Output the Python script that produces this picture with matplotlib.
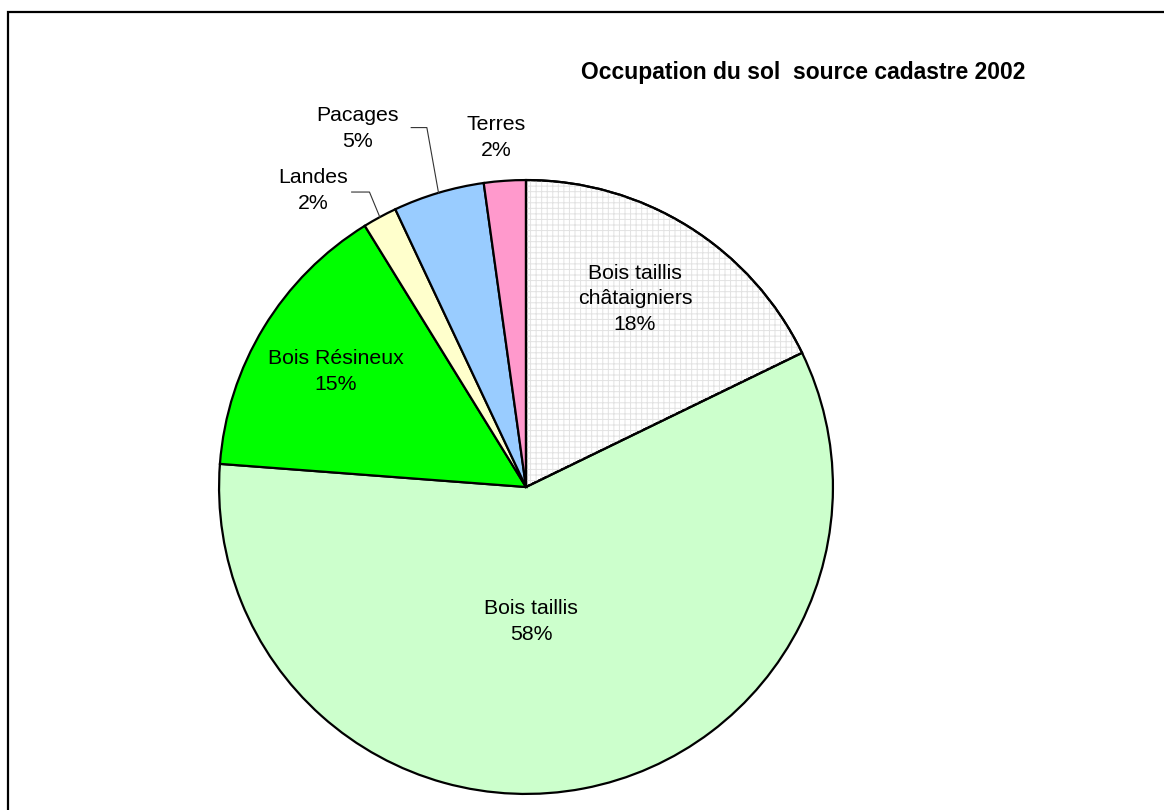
import matplotlib
matplotlib.use('Agg')
import matplotlib.pyplot as plt
from matplotlib.patches import Wedge, Rectangle
import numpy as np

# Occupation du sol, cadastre 2002 (percent, clockwise from 12 o'clock)
categories = ['Bois taillis\nchâtaigniers', 'Bois taillis', 'Bois Résineux',
              'Landes', 'Pacages', 'Terres']
shares = [17.8, 58.4, 15.0, 1.8, 4.8, 2.2]
colours = ['#FFFFFF', '#CCFFCC', '#00FF00', '#FFFFCC', '#99CCFF', '#FF99CC']

# label anchor positions in pie units (radius = 1)
LABEL_POS = [(0.355, 0.613), (0.016, -0.439), (-0.619, 0.377),
             (-0.694, 0.965), (-0.548, 1.168), (-0.097, 1.139)]

plt.rcParams['font.family'] = ['Liberation Sans', 'DejaVu Sans']
plt.rcParams['hatch.linewidth'] = 0.7

W, H = 1164, 810
fig = plt.figure(figsize=(W / 100, H / 100), dpi=100)

# frame around the chart area
fig.patches.append(Rectangle((8 / W, -0.02), 1.1, 1 - 12 / H + 0.02,
                             transform=fig.transFigure, fill=False,
                             edgecolor='black', linewidth=1.6))

cx, cy, r = 526, 487, 310
ax = fig.add_axes([(cx - r) / W, (H - cy - r) / H, 2 * r / W, 2 * r / H])
ax.axis('off')

wedges, _ = ax.pie(shares, colors=colours, startangle=90, counterclock=False,
                   radius=1, center=(0, 0),
                   wedgeprops=dict(edgecolor='black', linewidth=1.6))
ax.set_xlim(-1.01, 1.01)
ax.set_ylim(-1.01, 1.01)

# fine grid pattern on the chestnut coppice slice
w0 = wedges[0]
grid = Wedge((0, 0), 1, w0.theta1, w0.theta2, facecolor='none',
             edgecolor='#E2E2E2', hatch='+++', linewidth=0, zorder=w0.zorder + 0.1)
ax.add_patch(grid)
outline = Wedge((0, 0), 1, w0.theta1, w0.theta2, facecolor='none',
                edgecolor='black', linewidth=1.6, zorder=w0.zorder + 0.2)
ax.add_patch(outline)

total = sum(shares)
for name, val, (lx, ly) in zip(categories, shares, LABEL_POS):
    ax.text(lx, ly, f'{name}\n{val / total * 100:.0f}%', ha='center', va='center',
            fontsize=15.3, linespacing=1.45, clip_on=False, zorder=10)

# leader lines for the small outer labels
for idx, (x0, x1) in {3: (-0.568, -0.510), 4: (-0.374, -0.323)}.items():
    wd = wedges[idx]
    mid = np.deg2rad((wd.theta1 + wd.theta2) / 2)
    ex, ey = np.cos(mid), np.sin(mid)
    yl = LABEL_POS[idx][1] - 0.004 if idx == 3 else LABEL_POS[idx][1] + 0.003
    ax.plot([x0, x1, ex], [yl, yl, ey], color='#333333', linewidth=0.8,
            clip_on=False, zorder=9)

fig.text(1025 / W, 1 - 72 / H, 'Occupation du sol  source cadastre 2002',
         ha='right', va='center', fontsize=16.5, fontweight='bold')

fig.savefig('out.png', dpi=100, facecolor='white')
